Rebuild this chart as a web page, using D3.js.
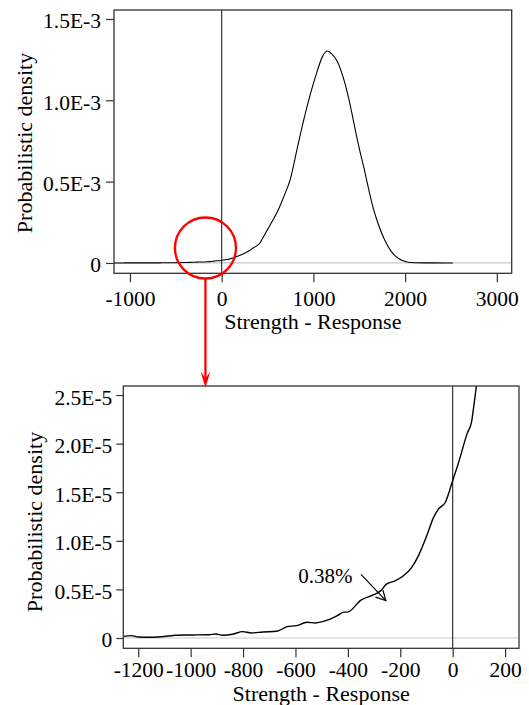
<!DOCTYPE html>
<html>
<head>
<meta charset="utf-8">
<script src="https://cdn.jsdelivr.net/npm/d3@7"></script>
<style>
  html, body { margin: 0; padding: 0; background: #fff; }
  svg { display: block; }
  text { font-family: "Liberation Serif", "Times New Roman", Times, "DejaVu Serif", serif; fill: #000; }
</style>
</head>
<body>
<svg id="chart" width="529" height="705"></svg>
<script>
// ---- Data ----
const strength = [
  -1256, -1226, -1200, -1149, -1085, -1059, -994, -930, -904, -878, -840, -801, -769, -724, -672,
  -634, -595, -556, -524, -479, -440, -415, -402, -350, -299, -273, -254, -222, -189, -157, -131,
  -99, -73, -54, -28, 0, 23, 55, 72, 81, 91, 120, 158, 250, 300, 350, 415, 450, 500, 550, 599,
  650, 700, 746, 780, 820, 912, 1023, 1100, 1151, 1200, 1262, 1320, 1372, 1420, 1464, 1510, 1556,
  1600, 1648, 1700, 1777, 1850, 1924, 2034, 2100, 2300, 2520
];
// density in units of 1E-5
const density = [
  0.017, 0.024, 0.010, 0.007, 0.020, 0.028, 0.031, 0.034, 0.041, 0.028, 0.038, 0.066, 0.052, 0.062, 0.069,
  0.114, 0.128, 0.162, 0.155, 0.183, 0.231, 0.266, 0.266, 0.390, 0.448, 0.490, 0.552, 0.586, 0.638, 0.724, 0.845,
  1.052, 1.241, 1.328, 1.397, 1.621, 1.810, 2.103, 2.224, 2.397, 2.603, 3.0, 3.9, 6.0, 7.5, 9.5, 12.1, 15.5, 20.5, 25.5, 30.5,
  37, 44, 51, 59, 69.5, 92, 114.5, 127, 130.3, 128.5, 123.7, 115, 104.3, 92, 79.7, 68, 57.2,
  46, 34.6, 25, 14.1, 7, 2.9, 0.4, 0.1, 0.03, 0
];

const topXTicks = [-1000, 0, 1000, 2000, 3000];
const topYTicks = [0, 0.5e-3, 1.0e-3, 1.5e-3];
const topYLabels = ["0", "0.5E-3", "1.0E-3", "1.5E-3"];

const botXTicks = [-1200, -1000, -800, -600, -400, -200, 0, 200];
const botYTicks = [0, 0.5e-5, 1.0e-5, 1.5e-5, 2.0e-5, 2.5e-5];
const botYLabels = ["0", "0.5E-5", "1.0E-5", "1.5E-5", "2.0E-5", "2.5E-5"];

const annotationText = "0.38%";

const FONT = '"Liberation Serif", "Times New Roman", Times, "DejaVu Serif", serif';
const points = strength.map((s, i) => ({x: s, y: density[i] * 1e-5}));

const svg = d3.select("#chart");

function panel(cfg) {
  const g = svg.append("g");
  const x = d3.scaleLinear().domain(cfg.xDomain).range([cfg.left, cfg.right]);
  const y = d3.scaleLinear().domain(cfg.yDomain).range([cfg.bottom, cfg.top]);

  const clipId = "clip" + cfg.id;
  svg.append("defs").append("clipPath").attr("id", clipId)
    .append("rect").attr("x", cfg.left).attr("y", cfg.top)
    .attr("width", cfg.right - cfg.left).attr("height", cfg.bottom - cfg.top);

  const inner = g.append("g").attr("clip-path", `url(#${clipId})`);
  inner.append("line")
    .attr("x1", cfg.left).attr("x2", cfg.right)
    .attr("y1", y(0)).attr("y2", y(0))
    .attr("stroke", "#c8c8c8").attr("stroke-width", 1.2);
  inner.append("line")
    .attr("x1", x(0)).attr("x2", x(0))
    .attr("y1", cfg.top).attr("y2", cfg.bottom)
    .attr("stroke", "#222").attr("stroke-width", 1.1);
  const line = d3.line().x(d => x(d.x)).y(d => y(d.y)).curve(d3.curveMonotoneX);
  inner.append("path").datum(points)
    .attr("d", line)
    .attr("fill", "none").attr("stroke", "#000").attr("stroke-width", cfg.curveW);

  const xAxis = d3.axisBottom(x).tickValues(cfg.xTicks).tickSize(cfg.xTickLen).tickPadding(cfg.xPad)
    .tickFormat(d => String(d));
  const gx = g.append("g").attr("transform", `translate(0,${cfg.bottom})`).call(xAxis);
  gx.attr("font-family", FONT);
  gx.select(".domain").remove();
  gx.selectAll(".tick line").attr("stroke", "#333").attr("stroke-width", 1.2);
  gx.selectAll(".tick text").attr("font-size", cfg.fontSize).attr("dy", null)
    .attr("y", cfg.xLabelBaseline - cfg.bottom).attr("font-family", FONT);

  const yAxis = d3.axisLeft(y).tickValues(cfg.yTicks).tickSize(cfg.yTickLen).tickPadding(cfg.yPad)
    .tickFormat((d, i) => cfg.yLabels[i]);
  const gy = g.append("g").attr("transform", `translate(${cfg.left},0)`).call(yAxis);
  gy.attr("font-family", FONT);
  gy.select(".domain").remove();
  gy.selectAll(".tick line").attr("stroke", "#333").attr("stroke-width", 1.2);
  gy.selectAll(".tick text").attr("font-size", cfg.fontSize).attr("dy", "9px")
    .attr("font-family", FONT);

  g.append("rect")
    .attr("x", cfg.left).attr("y", cfg.top)
    .attr("width", cfg.right - cfg.left).attr("height", cfg.bottom - cfg.top)
    .attr("fill", "none").attr("stroke", "#333").attr("stroke-width", 1.3);

  g.append("text")
    .attr("x", (cfg.left + cfg.right) / 2).attr("y", cfg.xTitleBaseline)
    .attr("text-anchor", "middle").attr("font-size", cfg.titleSize).attr("font-family", FONT)
    .text("Strength - Response");
  g.append("text")
    .attr("transform", `translate(${cfg.yTitleX},${cfg.yTitleY}) rotate(-90)`)
    .attr("text-anchor", "middle").attr("font-size", cfg.titleSize).attr("font-family", FONT)
    .text("Probabilistic density");

  return {x, y, g};
}

const topP = panel({
  id: "top", left: 114, right: 511.7, top: 10, bottom: 273.3,
  xDomain: [-1174, 3162], yDomain: [-0.0000635, 0.001555],
  xTicks: topXTicks, yTicks: topYTicks, yLabels: topYLabels,
  xTickLen: 9, xPad: 6, yTickLen: 8, yPad: 5, xLabelBaseline: 306,
  fontSize: 21.5, titleSize: 22, xTitleBaseline: 329, yTitleX: 32, yTitleY: 143, curveW: 1.1
});

const botP = panel({
  id: "bot", left: 123.3, right: 519, top: 386, bottom: 648.3,
  xDomain: [-1257, 253], yDomain: [-0.106e-5, 2.593e-5],
  xTicks: botXTicks, yTicks: botYTicks, yLabels: botYLabels,
  xTickLen: 9, xPad: 6, yTickLen: 7, yPad: 4, xLabelBaseline: 677,
  fontSize: 21.5, titleSize: 22, xTitleBaseline: 701, yTitleX: 42, yTitleY: 522, curveW: 1.4
});

// ---- Zoom annotation: red circle in top panel and arrow to bottom panel ----
const zoomCenter = {x: -177, y: 0.092e-3};
const cx = topP.x(zoomCenter.x), cy = topP.y(zoomCenter.y), r = 30.5;
svg.append("circle").attr("cx", cx).attr("cy", cy).attr("r", r)
  .attr("fill", "none").attr("stroke", "#ff0000").attr("stroke-width", 2.3);
const tipY = 387.7;
svg.append("line").attr("x1", cx).attr("x2", cx).attr("y1", cy + r).attr("y2", tipY - 8)
  .attr("stroke", "#ff0000").attr("stroke-width", 2.3);
svg.append("path")
  .attr("d", `M${cx},${tipY} L${cx - 4.8},${tipY - 16} L${cx},${tipY - 9.5} L${cx + 4.8},${tipY - 16} Z`)
  .attr("fill", "#ff0000");

// ---- "0.38%" annotation with open arrow ----
const ann = {textX: -589, textY: 0.563e-5, fromX: -350, fromY: 0.655e-5, toX: -255, toY: 0.384e-5};
svg.append("text")
  .attr("x", botP.x(ann.textX)).attr("y", botP.y(ann.textY))
  .attr("font-size", 21).attr("font-family", FONT).text(annotationText);
const ax1 = botP.x(ann.fromX), ay1 = botP.y(ann.fromY), ax2 = botP.x(ann.toX), ay2 = botP.y(ann.toY);
svg.append("line").attr("x1", ax1).attr("y1", ay1).attr("x2", ax2).attr("y2", ay2)
  .attr("stroke", "#000").attr("stroke-width", 1.2);
const ang = Math.atan2(ay2 - ay1, ax2 - ax1), hl = 11, ha = Math.PI / 6.5;
svg.append("path")
  .attr("d", `M${ax2 - hl * Math.cos(ang - ha)},${ay2 - hl * Math.sin(ang - ha)} L${ax2},${ay2} L${ax2 - hl * Math.cos(ang + ha)},${ay2 - hl * Math.sin(ang + ha)}`)
  .attr("fill", "none").attr("stroke", "#000").attr("stroke-width", 1.2);
</script>
</body>
</html>
